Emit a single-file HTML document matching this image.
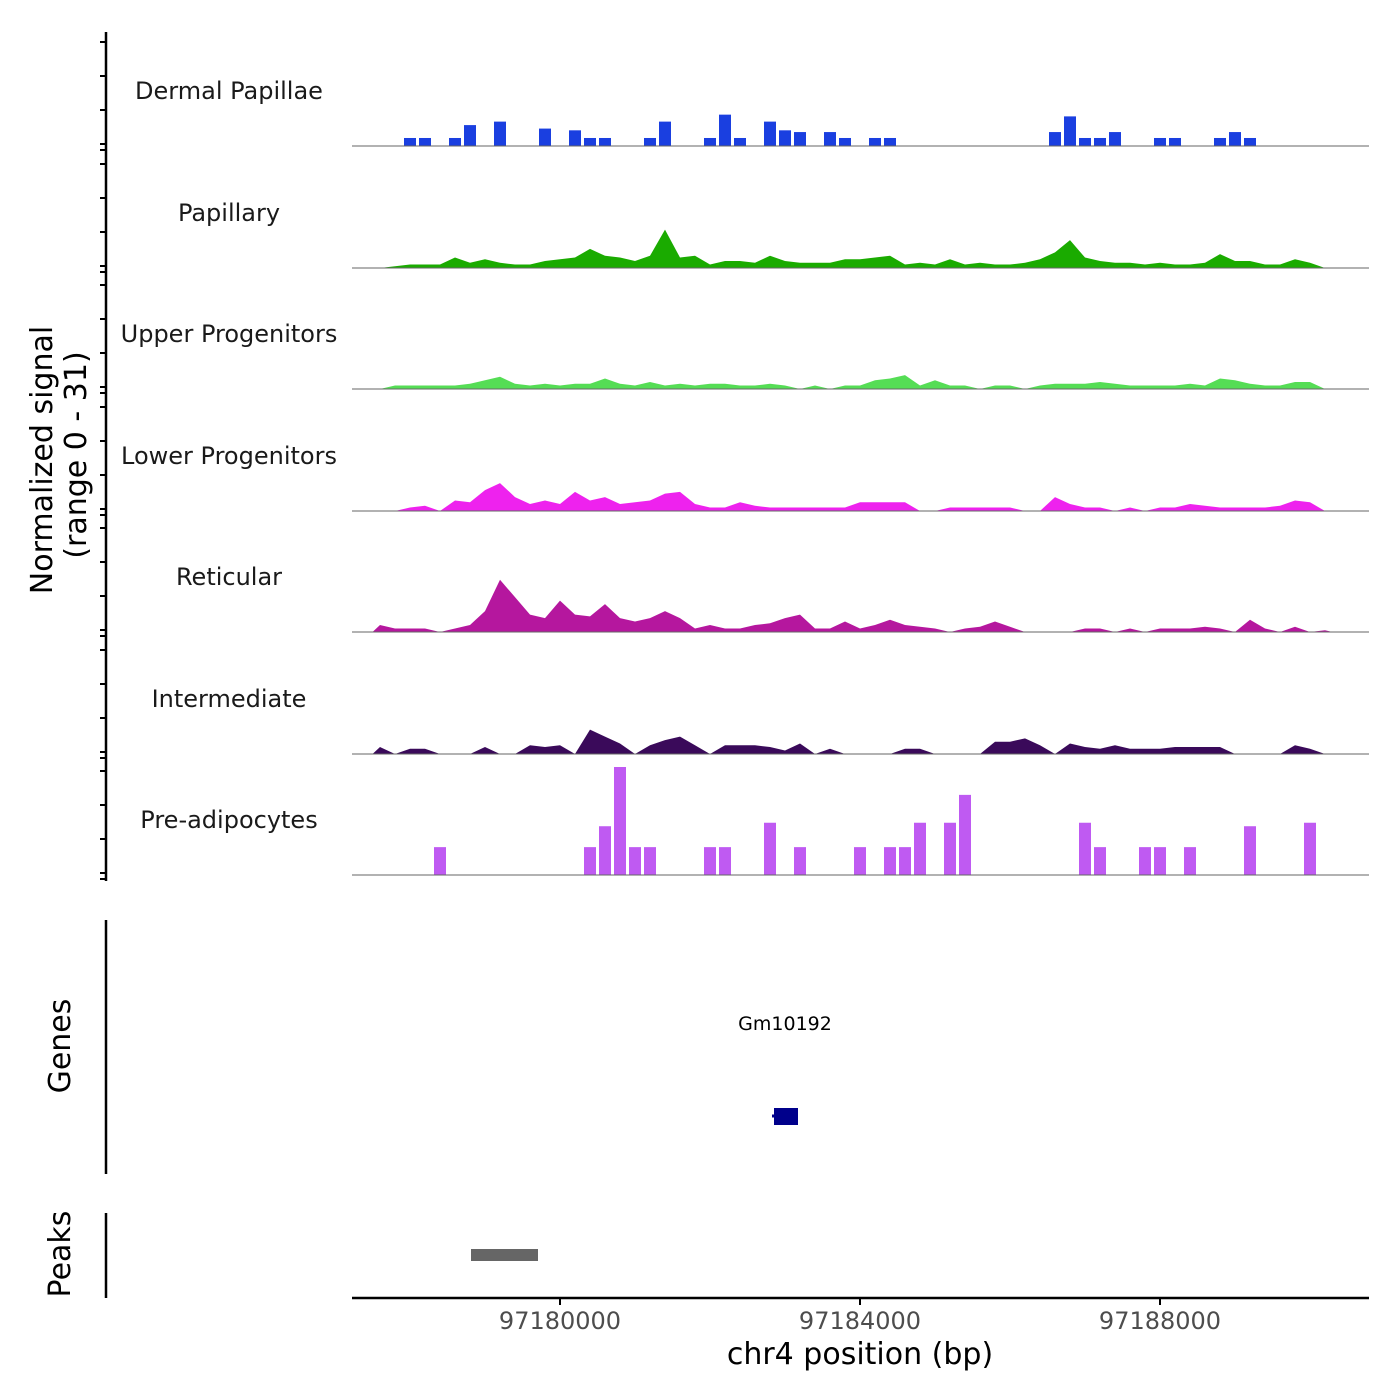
<!DOCTYPE html>
<html><head><meta charset="utf-8"><style>
html,body{margin:0;padding:0;background:#fff;}
svg{display:block;font-family:"DejaVu Sans","Liberation Sans",sans-serif;}
</style></head><body>
<svg id="chart" width="1400" height="1400" viewBox="0 0 1400 1400">
<g id="tracks"></g>
<g id="axes"></g>
<text x="0" y="0" transform="translate(52,460) rotate(-90)" text-anchor="middle" font-size="30" fill="#000">Normalized signal</text>
<text x="0" y="0" transform="translate(86,455) rotate(-90)" text-anchor="middle" font-size="30" fill="#000">(range 0 - 31)</text>
<text x="0" y="0" transform="translate(70,1046) rotate(-90)" text-anchor="middle" font-size="30" fill="#000">Genes</text>
<text x="0" y="0" transform="translate(70,1254) rotate(-90)" text-anchor="middle" font-size="30" fill="#000">Peaks</text>
<line x1="106" y1="32" x2="106" y2="881" stroke="#000" stroke-width="2.5"/>
<line x1="106" y1="920" x2="106" y2="1174" stroke="#000" stroke-width="2.5"/>
<line x1="106" y1="1213" x2="106" y2="1298" stroke="#000" stroke-width="2.5"/>
<text x="785" y="1030" text-anchor="middle" font-size="19" fill="#000">Gm10192</text>
<line x1="772" y1="1116" x2="797" y2="1116" stroke="#00008b" stroke-width="3"/>
<rect x="774" y="1108" width="24" height="17" fill="#00008b"/>
<rect x="471" y="1249" width="67" height="12" fill="#666666"/>
<line x1="352" y1="1298" x2="1369" y2="1298" stroke="#000" stroke-width="2.5"/>
<text x="860" y="1364" text-anchor="middle" font-size="30" fill="#000">chr4 position (bp)</text>
</svg>
<script>
const xTicks = [97180000, 97184000, 97188000];
const trackNames = ["Dermal Papillae","Papillary","Upper Progenitors","Lower Progenitors","Reticular","Intermediate","Pre-adipocytes"];
const trackColors = ["#1a3fe0","#1aab00","#55dd55","#ee22ee","#b5179e","#3a0a5a","#bf5af2"];
const trackBlocky = [true,false,false,false,false,false,true];
const binStart = 97177600;
const binSize = 200;
const dermal = [0,0,2.3,2.3,0,2.3,6,0,7,0, 0,5,0,4.5,2.3,2.3,0,0,2.3,7, 0,0,2.3,9,2.3,0,7,4.5,4,0, 4,2.3,0,2.3,2.3,0,0,0,0,0, 0,0,0,0,0,4,8.5,2.3,2.3,4, 0,0,2.3,2.3,0,0,2.3,4,2.3,0, 0,0,0,0];
const papillary = [0,0.5,1,1,1,3,1.5,2.5,1.5,1, 1,2,2.5,3,5.5,3.5,3,2,3.5,11, 3,3.5,1,2,2,1.5,3.5,2,1.5,1.5, 1.5,2.5,2.5,3,3.5,1,1.5,1,2.5,1, 1.5,1,1,1.5,2.5,4.5,8,3,2,1.5, 1.5,1,1.5,1,1,1.5,4,2,2,1, 1,2.5,1.5,0];
const upperProg = [0,1,1,1,1,1,1.5,2.5,3.5,1.5, 1,1.5,1,1.5,1.5,3,1.5,1,2,1, 1.5,1,1.5,1.5,1,1,1.5,1,0,1, 0,1,1,2.5,3,4,1,2.5,1,1, 0,1,1,0,1,1.5,1.5,1.5,2,1.5, 1,1,1,1,1.5,1,3,2.5,1.5,1, 1,2,2,0];
const lowerProg = [0,0,1,1.5,0,3,2.5,6,8,4, 2,3,2,5.5,3,4,2,2.5,3,5, 5.5,2,1,1,2.5,1.5,1,1,1,1, 1,1,2.5,2.5,2.5,2.5,0,0,1,1, 1,1,1,0,0,4,2,1,1,0, 1,0,1,1,2,1.5,1,1,1,1, 1.5,3,2.5,0];
const reticular = [2,1,1,1,0,1,2,6,15,10, 5,4,9,5,4.5,8,4,3,4,6, 4,1,2,1,1,2,2.5,4,5,1, 1,3,1,2,3.5,2,1.5,1,0,1, 1.5,3,1.5,0,0,0,0,1,1,0, 1,0,1,1,1,1.5,1,0,3.5,1, 0,1.5,0,0.5];
const intermediate = [2,0,1.5,1.5,0,0,0,2,0,0, 2.5,2,2.5,0,7,5,3,0,2.5,4, 5,2.5,0,2.5,2.5,2.5,2,1,3,0, 1.5,0,0,0,0,1.5,1.5,0,0,0, 0,3.5,3.5,4.5,2.5,0,3,2,1.5,2.5, 1.5,1.5,1.5,2,2,2,2,0,0,0, 0,2.5,1.5,0];
const preAdipo = [0,0,0,0,8,0,0,0,0,0, 0,0,0,0,8,14,31,8,8,0, 0,0,8,8,0,0,15,0,8,0, 0,0,8,0,8,8,15,0,15,23, 0,0,0,0,0,0,0,15,8,0, 0,8,8,0,8,0,0,0,14,0, 0,0,15,0];
const trackData = [dermal,papillary,upperProg,lowerProg,reticular,intermediate,preAdipo];

const NS="http://www.w3.org/2000/svg";
const xScale = bp => 560 + (bp - 97180000) * 0.075;
const baselines = [146,268,389,511,632,754,875];
const yScale = (v, b) => b - v * 108 / 31;
const tracks = document.getElementById('tracks');
const axes = document.getElementById('axes');
function mk(tag, attrs, parent){const e=document.createElementNS(NS,tag);for(const k in attrs)e.setAttribute(k,attrs[k]);parent.appendChild(e);return e;}

trackData.forEach((vals, t) => {
  const b = baselines[t];
  const g = mk('g', {}, tracks);
  
  
  if (trackBlocky[t]) {
    vals.forEach((v, i) => {
      if (v <= 0) return;
      const cx = xScale(binStart + i * binSize);
      const r = mk('rect', {x: cx - 6, y: yScale(v, b), width: 12, height: b - yScale(v, b), fill: trackColors[t]}, g);
      
      
    });
  } else {
    let d = 'M' + xScale(binStart - binSize/2) + ',' + b;
    vals.forEach((v, i) => {
      d += ' L' + xScale(binStart + i * binSize) + ',' + yScale(v, b);
    });
    d += ' L' + xScale(binStart + (vals.length - 0.5) * binSize) + ',' + b + ' Z';
    const p = mk('path', {d: d, fill: trackColors[t]}, g);
    
    
  }
  const bl = mk('line', {x1: 352, x2: 1369, y1: b, y2: b, stroke: '#666', 'stroke-width': 1}, g);
  
  
  const lbl = mk('text', {x: 229, y: b - 47, 'text-anchor': 'middle', 'font-size': 24, fill: '#1a1a1a'}, g);
  lbl.textContent = trackNames[t];
  
  
  [0, 6, 40, 74, 108].forEach(off => {
    const tk = mk('line', {x1: 100, x2: 106, y1: b + 4 - off, y2: b + 4 - off, stroke: '#000', 'stroke-width': 2}, axes);
    
    
  });
});
xTicks.forEach(v => {
  const x = xScale(v);
  const tk = mk('line', {x1: x, x2: x, y1: 1298, y2: 1305, stroke: '#000', 'stroke-width': 2}, axes);
  
  
  const tl = mk('text', {x: x, y: 1329, 'text-anchor': 'middle', 'font-size': 24, fill: '#4d4d4d'}, axes);
  tl.textContent = v;
  
  
});
</script>
</body></html>
